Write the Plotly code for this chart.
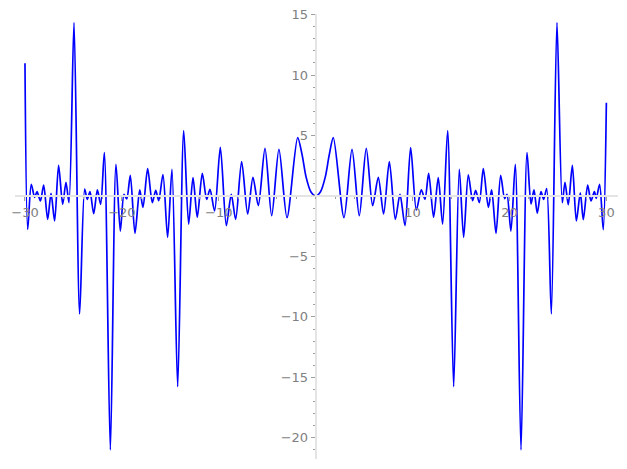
import plotly.graph_objects as go

# extrema and a few shape points
x_vals = [-30.0, -29.72, -29.35, -29.0, -28.76, -28.41, -28.07, -27.66, -27.31, -26.94,
          -26.53, -26.11, -25.77, -25.46, -24.94, -24.36, -23.84, -23.57, -23.29, -22.91,
          -22.53, -22.19, -21.81, -21.19, -20.61, -20.16, -19.78, -19.5, -19.13, -18.65,
          -18.16, -17.82, -17.34, -16.86, -16.51, -16.2, -15.76, -15.28, -14.83, -14.24,
          -13.62, -13.11, -12.66, -12.22, -11.7, -11.25, -10.91, -10.43, -9.84, -9.22,
          -8.71, -8.26, -7.64, -7.02, -6.47, -5.92, -5.23, -4.54, -3.79, -2.96,
          -1.86, -1.4, -1.0, -0.5, 0.0, 0.5, 1.0, 1.4,
          1.82, 2.92, 3.75, 4.5, 5.22, 5.88, 6.46, 7.01, 7.6, 8.22,
          8.7, 9.22, 9.8, 10.39, 10.9, 11.28, 11.66, 12.17, 12.65, 13.1,
          13.62, 14.24, 14.82, 15.27, 15.75, 16.2, 16.51, 16.89, 17.3, 17.82,
          18.16, 18.61, 19.09, 19.5, 19.74, 20.15, 20.6, 21.19, 21.81, 22.22,
          22.53, 22.87, 23.25, 23.53, 23.84, 24.32, 24.9, 25.45, 25.73, 26.07,
          26.49, 26.9, 27.31, 27.62, 28.07, 28.41, 28.76, 28.96, 29.3, 29.68, 30.0]
y_vals = [10.97, -2.76, 0.96, -0.11, 0.36, -0.41, 0.91, -1.93, 0.22, -2.07,
          2.54, -0.69, 1.13, -0.55, 14.34, -9.76, 0.58, -0.28, 0.36, -1.46,
          0.5, -0.69, 3.58, -21.0, 2.62, -2.9, 0.14, -0.25, 1.71, -3.09,
          0.5, -0.94, 2.26, -0.55, 0.47, -0.39, 1.76, -3.42, 2.21, -15.77,
          5.4, -2.32, 1.52, -1.76, 1.87, -0.28, 0.55, -1.24, 4.03, -2.45,
          0.14, -1.93, 2.84, -1.49, 1.54, -0.8, 3.94, -1.63, 3.86, -1.79,
          4.82, 3.4, 1.6, 0.35, 0.0, 0.35, 1.6, 3.4,
          4.82, -1.79, 3.86, -1.63, 3.94, -0.8, 1.54, -1.49, 2.84, -1.93,
          0.14, -2.45, 4.0, -1.16, 0.5, -0.28, 1.87, -1.76, 1.52, -2.32,
          5.4, -15.77, 2.21, -3.42, 1.74, -0.39, 0.47, -0.55, 2.26, -0.94,
          0.5, -3.09, 1.71, -0.22, 0.14, -2.9, 2.62, -21.0, 3.58, -0.66,
          0.5, -1.43, 0.36, -0.28, 0.61, -9.76, 14.34, -0.55, 1.13, -0.72,
          2.54, -2.07, 0.25, -1.96, 0.91, -0.41, 0.36, -0.19, 0.96, -2.78, 7.72]

x_ticks = [-30, -20, -10, 10, 20, 30]
y_ticks = [-20, -15, -10, -5, 5, 10, 15]

x_range = [-31.03, 31.2]
y_range = [-21.75, 15.05]

fig = go.Figure()
fig.add_trace(go.Scatter(x=x_vals, y=y_vals, mode='lines',
                         line=dict(color='#0000ff', width=1.7, shape='spline', smoothing=0.8),
                         hoverinfo='skip'))

axis_font = dict(family='DejaVu Sans', size=13, color='#808080')

# page body adds an 8px margin, so the figure is 8px smaller and shifted
fig.update_layout(
    width=619, height=461,
    margin=dict(l=7, r=9, t=6, b=10),
    paper_bgcolor='white', plot_bgcolor='white',
    showlegend=False,
    xaxis=dict(range=x_range, anchor='free', automargin=False,
               position=(0 - y_range[0]) / (y_range[1] - y_range[0]),
               showgrid=False, zeroline=False,
               showline=True, linecolor='#e4e4e4', linewidth=2,
               tickmode='array', tickvals=x_ticks, ticklabeloverflow='allow',
               ticks='outside', ticklen=4, tickcolor='#a0a0a0', tickwidth=1,
               minor=dict(dtick=2, ticks='outside', ticklen=2, tickcolor='#a0a0a0', showgrid=False),
               tickfont=axis_font),
    yaxis=dict(range=y_range, anchor='free', automargin=False,
               position=(0 - x_range[0]) / (x_range[1] - x_range[0]),
               showgrid=False, zeroline=False,
               showline=True, linecolor='#e4e4e4', linewidth=2,
               tickmode='array', tickvals=y_ticks, ticklabeloverflow='allow',
               ticks='outside', ticklen=4, tickcolor='#a0a0a0', tickwidth=1,
               minor=dict(dtick=1, ticks='outside', ticklen=2, tickcolor='#a0a0a0', showgrid=False),
               tickfont=axis_font),
)

fig.write_html("out.html")
